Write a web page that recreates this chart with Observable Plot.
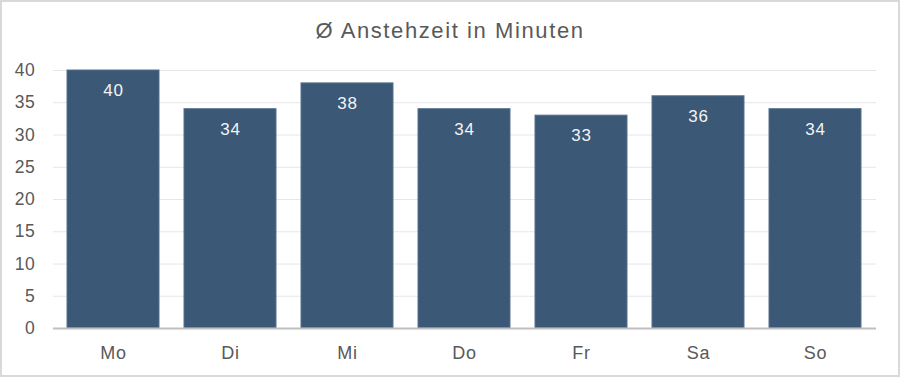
<!DOCTYPE html>
<html>
<head>
<meta charset="utf-8">
<script src="https://cdn.jsdelivr.net/npm/d3@7"></script>
<script src="https://cdn.jsdelivr.net/npm/@observablehq/plot@0.6"></script>
<style>
  html, body { margin: 0; padding: 0; background: #fff; }
  #wrap { position: relative; width: 900px; height: 377px; overflow: hidden; font-family: "Liberation Sans", Arial, sans-serif; }
  #title { position: absolute; left: 0; width: 900px; top: 18px; text-align: center; font-size: 22px; line-height: 26px; color: #595959; letter-spacing: 1.6px; }
  #frame { position: absolute; left: 0; top: 0; width: 900px; height: 377px; box-sizing: border-box; border: 2px solid #d9d9d9; pointer-events: none; }
  #chart { position: absolute; left: 0; top: 0; }
  #chart svg text { letter-spacing: 0.7px; }
</style>
</head>
<body>
<div id="wrap">
  <div id="chart"></div>
  <div id="title">Ø Anstehzeit in Minuten</div>
  <div id="frame"></div>
</div>
<script>
const days = ["Mo", "Di", "Mi", "Do", "Fr", "Sa", "So"];
const minutes = [40, 34, 38, 34, 33, 36, 34];
const yTicks = [0, 5, 10, 15, 20, 25, 30, 35, 40];

const data = days.map((d, i) => ({day: d, value: minutes[i]}));

const chart = Plot.plot({
  width: 900,
  height: 377,
  marginTop: 70,
  marginBottom: 49,
  marginLeft: 53,
  marginRight: 24,
  style: {fontFamily: '"Liberation Sans", Arial, sans-serif', fontSize: "17px", color: "#595959", background: "transparent"},
  x: {domain: days, paddingInner: 0.21, paddingOuter: 0.105, label: null},
  y: {domain: [0, 40], label: null},
  marks: [
    Plot.gridY(yTicks, {stroke: "#e6e6e6", strokeOpacity: 1, strokeWidth: 1}),
    Plot.barY(data, {x: "day", y: "value", fill: "#3b5876", stroke: "#56718d", strokeWidth: 1}),
    Plot.ruleY([0], {stroke: "#bfbfbf", strokeWidth: 2}),
    Plot.text(data, {x: "day", y: "value", text: d => String(d.value), dy: 20, fill: "#f4f4f4", fontSize: 17}),
    Plot.axisY(yTicks, {tickSize: 0, tickPadding: 18, fontSize: 17.5, fill: "#595959", label: null}),
    Plot.axisX({tickSize: 0, tickPadding: 18, fontSize: 18, fill: "#595959", label: null})
  ]
});
document.getElementById("chart").appendChild(chart);
</script>
</body>
</html>
